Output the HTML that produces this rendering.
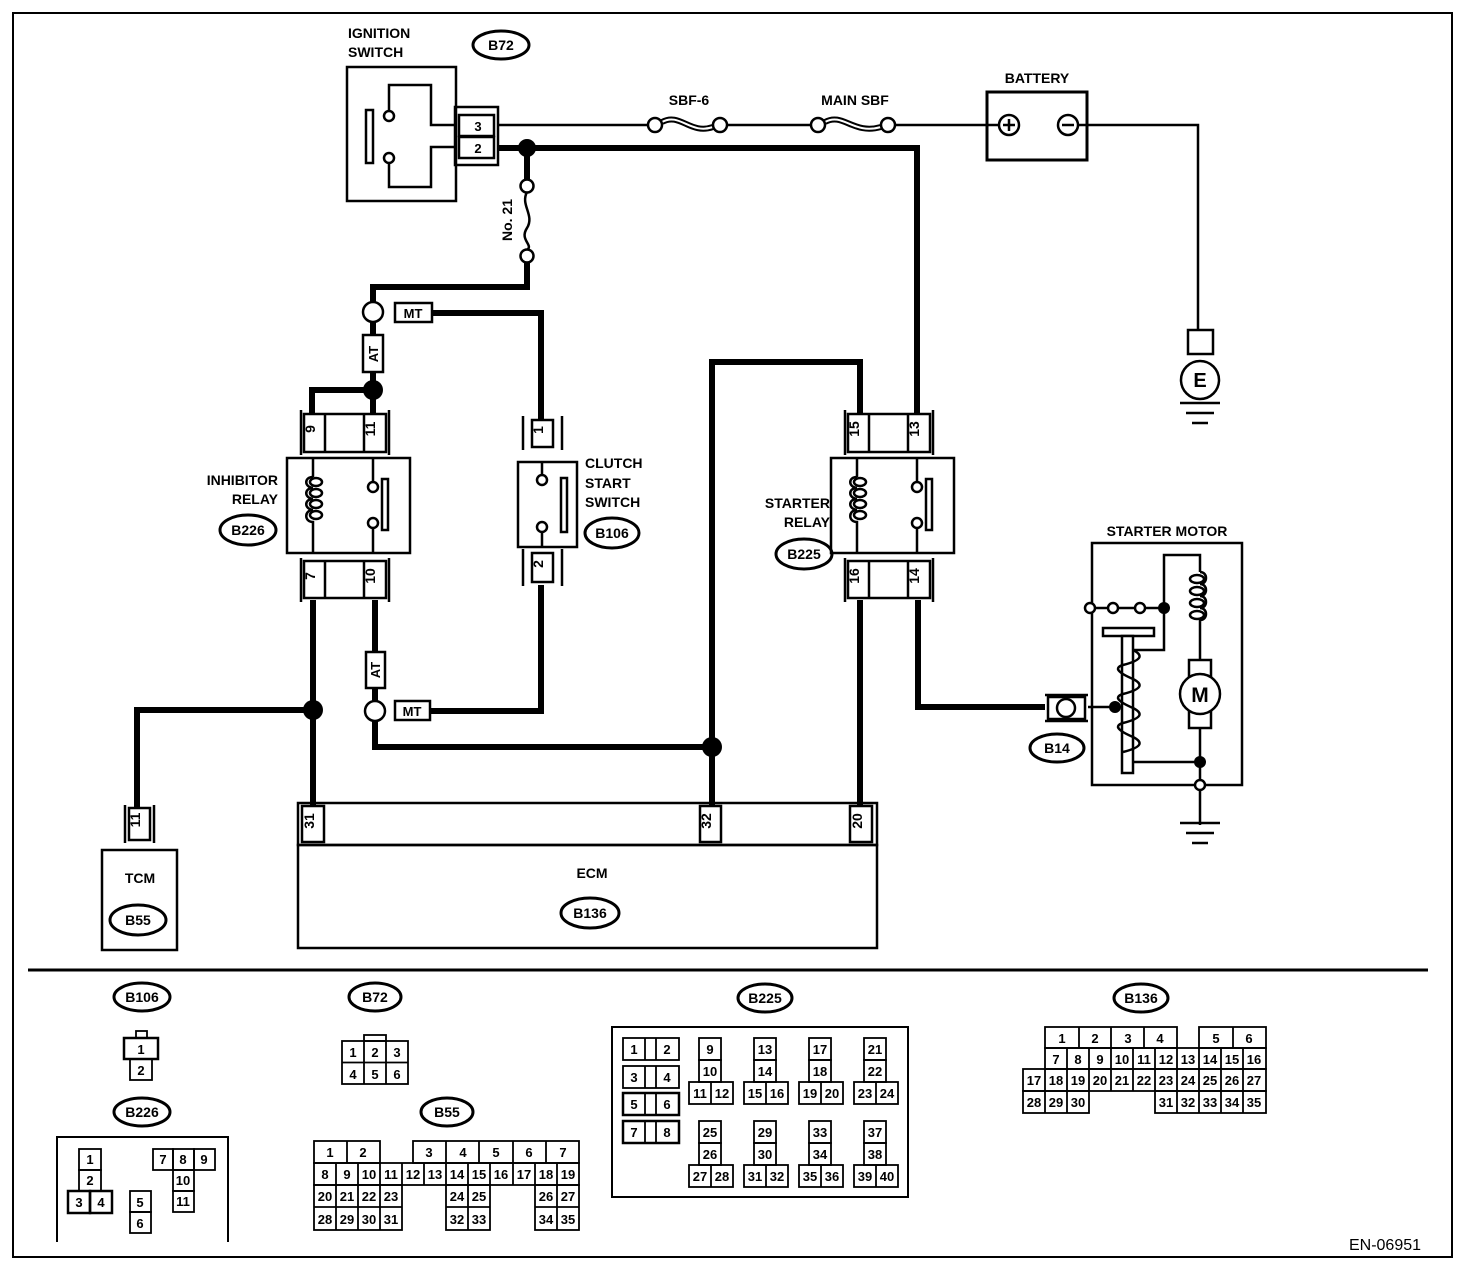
<!DOCTYPE html>
<html><head><meta charset="utf-8"><style>
html,body{margin:0;padding:0;background:#fff}
svg{display:block}
text{font-family:"Liberation Sans",sans-serif;font-weight:bold;fill:#000}
</style></head><body>
<svg width="1472" height="1274" viewBox="0 0 1472 1274" xmlns="http://www.w3.org/2000/svg">
<rect x="13" y="13" width="1439" height="1244" fill="none" stroke="#000" stroke-width="2"/>
<line x1="28" y1="970" x2="1428" y2="970" stroke="#000" stroke-width="3"/>

<g fill="none" stroke="#000" stroke-width="2.5">
<!-- ignition switch -->
<rect x="347" y="67" width="109" height="134"/>
<polyline points="389,111 389,85 431,85 431,125 456,125"/>
<polyline points="456,147 431,147 431,187 389,187 389,163"/>
<circle cx="389" cy="116" r="5" fill="#fff"/>
<circle cx="389" cy="158" r="5" fill="#fff"/>
<rect x="366" y="110" width="7" height="53"/>
<rect x="455" y="107" width="43" height="58"/>
<rect x="459" y="115" width="35" height="21"/>
<rect x="459" y="137" width="35" height="21"/>
</g>
<text x="348" y="38" font-size="14">IGNITION</text>
<text x="348" y="57" font-size="14">SWITCH</text>
<text x="478" y="131" font-size="13" text-anchor="middle">3</text>
<text x="478" y="153" font-size="13" text-anchor="middle">2</text>
<ellipse cx="501" cy="45" rx="28" ry="14" fill="none" stroke="#000" stroke-width="3"/>
<text x="501" y="50" font-size="14" text-anchor="middle">B72</text>

<!-- thin wire 3 to battery -->
<g fill="none" stroke="#000" stroke-width="2.5">
<line x1="498" y1="125" x2="648" y2="125"/>
<line x1="727" y1="125" x2="811" y2="125"/>
<line x1="895" y1="125" x2="998" y2="125"/>
<polyline points="1077,125 1198,125 1198,330"/>
</g>
<!-- fuses -->
<g stroke="#000" fill="#fff" stroke-width="2.5">
<path d="M662,122 C680,112 690,135 713,127" fill="none" stroke-width="6"/>
<path d="M662,122 C680,112 690,135 713,127" fill="none" stroke="#fff" stroke-width="2"/>
<circle cx="655" cy="125" r="7"/><circle cx="720" cy="125" r="7"/>
<path d="M825,122 C843,112 853,135 881,127" fill="none" stroke-width="6"/>
<path d="M825,122 C843,112 853,135 881,127" fill="none" stroke="#fff" stroke-width="2"/>
<circle cx="818" cy="125" r="7"/><circle cx="888" cy="125" r="7"/>
</g>
<text x="689" y="105" font-size="14" text-anchor="middle">SBF-6</text>
<text x="855" y="105" font-size="14" text-anchor="middle">MAIN SBF</text>

<!-- battery -->
<rect x="987" y="92" width="100" height="68" fill="none" stroke="#000" stroke-width="3"/>
<text x="1037" y="83" font-size="14" text-anchor="middle">BATTERY</text>
<g fill="#fff" stroke="#000" stroke-width="2.5">
<circle cx="1009" cy="125" r="10"/><circle cx="1068" cy="125" r="10"/>
</g>
<path d="M1003,125h12M1009,119v12M1062,125h12" stroke="#000" stroke-width="2.5"/>
<!-- E ground -->
<rect x="1188" y="330" width="25" height="24" fill="#fff" stroke="#000" stroke-width="2.5"/>
<circle cx="1200" cy="380" r="19" fill="#fff" stroke="#000" stroke-width="2.5"/>
<text x="1200" y="387" font-size="20" text-anchor="middle">E</text>
<path d="M1180,403h40M1186,413h28M1192,423h16" stroke="#000" stroke-width="2.5"/>

<!-- thick wires -->
<g fill="none" stroke="#000" stroke-width="6">
<polyline points="498,148 917,148 917,414"/>
<line x1="527" y1="148" x2="527" y2="180"/>
<polyline points="527,262 527,287 373,287 373,302"/>
<line x1="373" y1="322" x2="373" y2="414"/>
<polyline points="373,390 312,390 312,414"/>
<polyline points="432,313 541,313 541,420"/>
<polyline points="860,414 860,362 712,362 712,805"/>
<line x1="860" y1="600" x2="860" y2="805"/>
<polyline points="918,600 918,707 1045,707"/>
<line x1="313" y1="600" x2="313" y2="805"/>
<polyline points="313,710 137,710 137,810"/>
<line x1="375" y1="600" x2="375" y2="702"/>
<polyline points="375,721 375,747 712,747"/>
<polyline points="430,711 541,711 541,585"/>
</g>
<path d="M527,192 C520,205 535,215 527,228 C519,240 534,245 527,250" fill="none" stroke="#000" stroke-width="2.5"/>
<g fill="#fff" stroke="#000" stroke-width="2.5">
<circle cx="527" cy="186" r="6.5"/><circle cx="527" cy="256" r="6.5"/>
<circle cx="373" cy="312" r="10"/><circle cx="375" cy="711" r="10"/>
<rect x="395" y="303" width="37" height="19"/>
<rect x="363" y="335" width="20" height="37"/>
<rect x="395" y="701" width="35" height="19"/>
<rect x="366" y="652" width="19" height="36"/>
</g>
<text x="413" y="318" font-size="13" text-anchor="middle">MT</text>
<text x="412" y="716" font-size="13" text-anchor="middle">MT</text>
<text x="378" y="354" font-size="13" text-anchor="middle" transform="rotate(-90 378 354)" dy="0">AT</text>
<text x="380" y="670" font-size="13" text-anchor="middle" transform="rotate(-90 380 670)">AT</text>
<text x="512" y="220" font-size="14" text-anchor="middle" transform="rotate(-90 512 220)">No. 21</text>
<g fill="#000">
<circle cx="527" cy="148" r="9"/><circle cx="373" cy="390" r="10"/>
<circle cx="313" cy="710" r="10"/><circle cx="712" cy="747" r="10"/>
</g>

<!-- relay template -->
<defs>
<g id="relay" fill="none" stroke="#000" stroke-width="2.5">
<line x1="301" y1="410" x2="301" y2="455"/><line x1="389" y1="410" x2="389" y2="455"/>
<rect x="304" y="414" width="82" height="38" fill="#fff"/>
<line x1="325" y1="414" x2="325" y2="452"/><line x1="364" y1="414" x2="364" y2="452"/>
<rect x="287" y="458" width="123" height="95" fill="#fff"/>
<path d="M313,458 V477 M313,533 V553"/>
<path d="M313,477 c-9,0 -9,10 0,11 c-9,0 -9,10 0,11 c-9,0 -9,10 0,11 c-9,0 -9,12 0,12 c0,0 0,11 0,11"/>
<ellipse cx="316" cy="482" rx="6" ry="4"/><ellipse cx="316" cy="493" rx="6" ry="4"/>
<ellipse cx="316" cy="504" rx="6" ry="4"/><ellipse cx="316" cy="515" rx="6" ry="4"/>
<path d="M373,458 V482 M373,528 V553"/>
<circle cx="373" cy="487" r="5" fill="#fff"/><circle cx="373" cy="523" r="5" fill="#fff"/>
<rect x="382" y="479" width="6" height="51"/>
<line x1="301" y1="558" x2="301" y2="602"/><line x1="389" y1="558" x2="389" y2="602"/>
<rect x="304" y="561" width="82" height="37" fill="#fff"/>
<line x1="325" y1="561" x2="325" y2="598"/><line x1="364" y1="561" x2="364" y2="598"/>
</g>
</defs>
<use href="#relay"/>
<use href="#relay" transform="translate(544,0)"/>
<g font-size="14" text-anchor="middle">
<text x="319" y="433" transform="rotate(-90 315 433)">9</text>
<text x="379" y="433" transform="rotate(-90 375 433)">11</text>
<text x="319" y="580" transform="rotate(-90 315 580)">7</text>
<text x="379" y="580" transform="rotate(-90 375 580)">10</text>
<text x="863" y="433" transform="rotate(-90 859 433)">15</text>
<text x="923" y="433" transform="rotate(-90 919 433)">13</text>
<text x="863" y="580" transform="rotate(-90 859 580)">16</text>
<text x="923" y="580" transform="rotate(-90 919 580)">14</text>
</g>
<text x="278" y="485" font-size="14" text-anchor="end">INHIBITOR</text>
<text x="278" y="504" font-size="14" text-anchor="end">RELAY</text>
<ellipse cx="248" cy="530" rx="28" ry="15" fill="none" stroke="#000" stroke-width="3"/>
<text x="248" y="535" font-size="14" text-anchor="middle">B226</text>
<text x="830" y="508" font-size="14" text-anchor="end">STARTER</text>
<text x="830" y="527" font-size="14" text-anchor="end">RELAY</text>
<ellipse cx="804" cy="554" rx="28" ry="15" fill="none" stroke="#000" stroke-width="3"/>
<text x="804" y="559" font-size="14" text-anchor="middle">B225</text>

<!-- clutch switch -->
<g fill="none" stroke="#000" stroke-width="2.5">
<path d="M523,416V450M562,416V450M523,549V586M562,549V586"/>
<rect x="532" y="420" width="21" height="27" fill="#fff"/>
<rect x="518" y="462" width="59" height="85" fill="#fff"/>
<rect x="532" y="553" width="21" height="29" fill="#fff"/>
<path d="M542,462V475M542,532V547"/>
<circle cx="542" cy="480" r="5" fill="#fff"/><circle cx="542" cy="527" r="5" fill="#fff"/>
<rect x="561" y="478" width="6" height="54"/>
</g>
<text x="547" y="434" font-size="14" text-anchor="middle" transform="rotate(-90 543 434)">1</text>
<text x="547" y="568" font-size="14" text-anchor="middle" transform="rotate(-90 543 568)">2</text>
<text x="585" y="468" font-size="14">CLUTCH</text>
<text x="585" y="488" font-size="14">START</text>
<text x="585" y="507" font-size="14">SWITCH</text>
<ellipse cx="612" cy="533" rx="27" ry="15" fill="none" stroke="#000" stroke-width="3"/>
<text x="612" y="538" font-size="14" text-anchor="middle">B106</text>

<!-- ECM -->
<g fill="none" stroke="#000" stroke-width="2.5">
<rect x="298" y="803" width="579" height="42"/>
<rect x="298" y="845" width="579" height="103"/>
<rect x="302" y="806" width="22" height="36"/><rect x="700" y="806" width="21" height="36"/>
<rect x="850" y="806" width="22" height="36"/>
</g>
<text x="318" y="825" font-size="14" text-anchor="middle" transform="rotate(-90 314 825)">31</text>
<text x="715" y="825" font-size="14" text-anchor="middle" transform="rotate(-90 711 825)">32</text>
<text x="866" y="825" font-size="14" text-anchor="middle" transform="rotate(-90 862 825)">20</text>
<text x="592" y="878" font-size="14" text-anchor="middle">ECM</text>
<ellipse cx="590" cy="913" rx="29" ry="15" fill="none" stroke="#000" stroke-width="3"/>
<text x="590" y="918" font-size="14" text-anchor="middle">B136</text>

<!-- TCM -->
<g fill="none" stroke="#000" stroke-width="2.5">
<path d="M125,805V843M154,805V843"/>
<rect x="129" y="808" width="21" height="32" fill="#fff"/>
<rect x="102" y="850" width="75" height="100"/>
</g>
<text x="144" y="824" font-size="14" text-anchor="middle" transform="rotate(-90 140 824)">11</text>
<text x="140" y="883" font-size="14" text-anchor="middle">TCM</text>
<ellipse cx="138" cy="920" rx="28" ry="15" fill="none" stroke="#000" stroke-width="3"/>
<text x="138" y="925" font-size="14" text-anchor="middle">B55</text>

<!-- starter motor -->
<text x="1167" y="536" font-size="14" text-anchor="middle">STARTER MOTOR</text>
<g fill="none" stroke="#000" stroke-width="2.5">
<rect x="1092" y="543" width="150" height="242"/>
<path d="M1045,695h43M1045,721h43"/>
<rect x="1048" y="697" width="37" height="22" fill="#fff"/>
<circle cx="1066" cy="708" r="9"/>
<line x1="1088" y1="707" x2="1115" y2="707"/>
<path d="M1090,608h46M1144,608h20V555h36V572"/>
<path d="M1164,608V650H1133"/>
<path d="M1200,572c8,0 8,12 0,12c8,0 8,12 0,12c8,0 8,12 0,12c8,0 8,12 0,12V660"/>
<ellipse cx="1197" cy="579" rx="7" ry="4"/><ellipse cx="1197" cy="591" rx="7" ry="4"/>
<ellipse cx="1197" cy="603" rx="7" ry="4"/><ellipse cx="1197" cy="615" rx="7" ry="4"/>
<rect x="1189" y="660" width="22" height="68"/>
<circle cx="1200" cy="694" r="20" fill="#fff"/>
<line x1="1200" y1="728" x2="1200" y2="825"/>
<line x1="1133" y1="762" x2="1200" y2="762"/>
<rect x="1103" y="628" width="51" height="8"/>
<rect x="1122" y="636" width="11" height="137" fill="#fff"/>
<path d="M1133,650c10,5 10,10 -10,15c-10,3 -4,8 10,14M1133,679c10,5 10,10 -10,15c-10,3 -4,8 10,14M1133,708c10,5 10,10 -10,15c-10,3 -4,8 10,14M1133,737c10,5 10,10 -10,15"/>
<path d="M1180,823h40M1186,833h28M1192,843h16"/>
</g>
<g fill="#fff" stroke="#000" stroke-width="2.5">
<circle cx="1090" cy="608" r="5"/><circle cx="1113" cy="608" r="5"/><circle cx="1140" cy="608" r="5"/>
<circle cx="1200" cy="785" r="5"/>
</g>
<g fill="#000"><circle cx="1164" cy="608" r="6"/><circle cx="1115" cy="707" r="6"/><circle cx="1200" cy="762" r="6"/></g>
<text x="1200" y="702" font-size="21" text-anchor="middle">M</text>
<ellipse cx="1057" cy="748" rx="27" ry="14" fill="none" stroke="#000" stroke-width="3"/>
<text x="1057" y="753" font-size="14" text-anchor="middle">B14</text>

<!-- BOTTOM CONNECTOR TABLES -->
<g fill="none" stroke="#000" stroke-width="3">
<ellipse cx="142" cy="997" rx="28" ry="14"/><ellipse cx="375" cy="997" rx="26" ry="14"/>
<ellipse cx="142" cy="1112" rx="28" ry="14"/><ellipse cx="447" cy="1112" rx="26" ry="14"/>
<ellipse cx="765" cy="998" rx="27" ry="14"/><ellipse cx="1141" cy="998" rx="27" ry="14"/>
</g>
<g font-size="14" text-anchor="middle">
<text x="142" y="1002">B106</text><text x="375" y="1002">B72</text>
<text x="142" y="1117">B226</text><text x="447" y="1117">B55</text>
<text x="765" y="1003">B225</text><text x="1141" y="1003">B136</text>
</g>
<g fill="none" stroke="#000" stroke-width="1.8">
<!-- B106 -->
<rect x="136" y="1031" width="11" height="7"/>
<rect x="124" y="1038" width="34" height="21" stroke-width="2.5"/>
<rect x="130" y="1059" width="22" height="21"/>
<!-- B72 -->
<rect x="364" y="1035" width="22" height="6"/>
<rect x="342" y="1041" width="66" height="43"/>
<path d="M342,1062.5h66M364,1041v43M386,1041v43"/>
<!-- B226 -->
<path d="M57,1242V1137H228V1242" stroke-width="2"/>
<rect x="79" y="1149" width="22" height="21"/><rect x="79" y="1170" width="22" height="21"/>
<rect x="68" y="1191" width="22" height="22" stroke-width="2.5"/><rect x="90" y="1191" width="22" height="22" stroke-width="2.5"/>
<rect x="130" y="1191" width="21" height="21"/><rect x="130" y="1212" width="21" height="21"/>
<rect x="153" y="1149" width="20" height="21"/><rect x="173" y="1149" width="21" height="21"/><rect x="194" y="1149" width="21" height="21"/>
<rect x="173" y="1170" width="21" height="21"/><rect x="173" y="1191" width="21" height="21"/>
</g>
<g font-size="13" text-anchor="middle">
<text x="141" y="1054">1</text><text x="141" y="1075">2</text>
<text x="353" y="1057">1</text><text x="375" y="1057">2</text><text x="397" y="1057">3</text>
<text x="353" y="1079">4</text><text x="375" y="1079">5</text><text x="397" y="1079">6</text>
<text x="90" y="1164">1</text><text x="90" y="1185">2</text><text x="79" y="1207">3</text><text x="101" y="1207">4</text>
<text x="140" y="1207">5</text><text x="140" y="1228">6</text>
<text x="163" y="1164">7</text><text x="183" y="1164">8</text><text x="204" y="1164">9</text>
<text x="183" y="1185">10</text><text x="183" y="1206">11</text>
</g>

<!-- B55 -->
<g fill="none" stroke="#000" stroke-width="1.8">
<rect x="314" y="1141" width="66" height="22"/><line x1="347" y1="1141" x2="347" y2="1163"/>
<rect x="413" y="1141" width="166" height="22"/>
<path d="M446,1141v22M479,1141v22M513,1141v22M546,1141v22"/>
<rect x="314" y="1163" width="265" height="22"/>
<path d="M336,1163v22M358,1163v22M380,1163v22M402,1163v22M424,1163v22M446,1163v22M468,1163v22M490,1163v22M513,1163v22M535,1163v22M557,1163v22"/>
<rect x="314" y="1185" width="88" height="45"/><path d="M314,1207h88M336,1185v45M358,1185v45M380,1185v45"/>
<rect x="446" y="1185" width="44" height="45"/><path d="M446,1207h44M468,1185v45"/>
<rect x="535" y="1185" width="44" height="45"/><path d="M535,1207h44M557,1185v45"/>
</g>
<g font-size="13" text-anchor="middle">
<text x="330" y="1157">1</text><text x="363" y="1157">2</text><text x="429" y="1157">3</text><text x="463" y="1157">4</text><text x="496" y="1157">5</text><text x="529" y="1157">6</text><text x="563" y="1157">7</text>
<text x="325" y="1179">8</text><text x="347" y="1179">9</text><text x="369" y="1179">10</text><text x="391" y="1179">11</text><text x="413" y="1179">12</text><text x="435" y="1179">13</text><text x="457" y="1179">14</text><text x="479" y="1179">15</text><text x="501" y="1179">16</text><text x="524" y="1179">17</text><text x="546" y="1179">18</text><text x="568" y="1179">19</text>
<text x="325" y="1201">20</text><text x="347" y="1201">21</text><text x="369" y="1201">22</text><text x="391" y="1201">23</text><text x="457" y="1201">24</text><text x="479" y="1201">25</text><text x="546" y="1201">26</text><text x="568" y="1201">27</text>
<text x="325" y="1224">28</text><text x="347" y="1224">29</text><text x="369" y="1224">30</text><text x="391" y="1224">31</text><text x="457" y="1224">32</text><text x="479" y="1224">33</text><text x="546" y="1224">34</text><text x="568" y="1224">35</text>
</g>

<!-- B225 -->
<g fill="none" stroke="#000" stroke-width="1.8">
<rect x="612" y="1027" width="296" height="170" stroke-width="2"/>
<rect x="623" y="1038" width="56" height="22"/><path d="M645,1038v22M656,1038v22"/>
<rect x="623" y="1066" width="56" height="22"/><path d="M645,1066v22M656,1066v22"/>
<rect x="623" y="1093" width="56" height="22" stroke-width="2.5"/><path d="M645,1093v22M656,1093v22"/>
<rect x="623" y="1121" width="56" height="22" stroke-width="2.5"/><path d="M645,1121v22M656,1121v22"/>
</g>
<defs>
<g id="grp" fill="none" stroke="#000" stroke-width="1.8">
<rect x="699" y="1038" width="22" height="22"/><rect x="699" y="1060" width="22" height="22"/>
<rect x="689" y="1082" width="44" height="22"/><line x1="711" y1="1082" x2="711" y2="1104"/>
</g>
</defs>
<use href="#grp"/><use href="#grp" transform="translate(55,0)"/><use href="#grp" transform="translate(110,0)"/><use href="#grp" transform="translate(165,0)"/>
<use href="#grp" transform="translate(0,83)"/><use href="#grp" transform="translate(55,83)"/><use href="#grp" transform="translate(110,83)"/><use href="#grp" transform="translate(165,83)"/>
<g font-size="13" text-anchor="middle">
<text x="634" y="1054">1</text><text x="667" y="1054">2</text><text x="634" y="1082">3</text><text x="667" y="1082">4</text>
<text x="634" y="1109">5</text><text x="667" y="1109">6</text><text x="634" y="1137">7</text><text x="667" y="1137">8</text>
<text x="710" y="1054">9</text><text x="710" y="1076">10</text><text x="700" y="1098">11</text><text x="722" y="1098">12</text>
<text x="765" y="1054">13</text><text x="765" y="1076">14</text><text x="755" y="1098">15</text><text x="777" y="1098">16</text>
<text x="820" y="1054">17</text><text x="820" y="1076">18</text><text x="810" y="1098">19</text><text x="832" y="1098">20</text>
<text x="875" y="1054">21</text><text x="875" y="1076">22</text><text x="865" y="1098">23</text><text x="887" y="1098">24</text>
<text x="710" y="1137">25</text><text x="710" y="1159">26</text><text x="700" y="1181">27</text><text x="722" y="1181">28</text>
<text x="765" y="1137">29</text><text x="765" y="1159">30</text><text x="755" y="1181">31</text><text x="777" y="1181">32</text>
<text x="820" y="1137">33</text><text x="820" y="1159">34</text><text x="810" y="1181">35</text><text x="832" y="1181">36</text>
<text x="875" y="1137">37</text><text x="875" y="1159">38</text><text x="865" y="1181">39</text><text x="887" y="1181">40</text>
</g>

<!-- B136 -->
<g fill="none" stroke="#000" stroke-width="1.8">
<rect x="1045" y="1027" width="132" height="21"/><path d="M1079,1027v21M1111,1027v21M1144,1027v21"/>
<rect x="1199" y="1027" width="67" height="21"/><line x1="1233" y1="1027" x2="1233" y2="1048"/>
<rect x="1045" y="1048" width="221" height="21"/>
<rect x="1023" y="1069" width="243" height="22"/>
<path d="M1067,1048v43M1089,1048v43M1111,1048v43M1133,1048v43M1155,1048v43M1177,1048v43M1199,1048v43M1221,1048v43M1243,1048v43M1045,1069v22"/>
<rect x="1023" y="1091" width="66" height="22"/><path d="M1045,1091v22M1067,1091v22"/>
<rect x="1155" y="1091" width="111" height="22"/><path d="M1177,1091v22M1199,1091v22M1221,1091v22M1243,1091v22"/>
</g>
<g font-size="13" text-anchor="middle">
<text x="1062" y="1043">1</text><text x="1095" y="1043">2</text><text x="1128" y="1043">3</text><text x="1160" y="1043">4</text><text x="1216" y="1043">5</text><text x="1249" y="1043">6</text>
<text x="1056" y="1064">7</text><text x="1078" y="1064">8</text><text x="1100" y="1064">9</text><text x="1122" y="1064">10</text><text x="1144" y="1064">11</text><text x="1166" y="1064">12</text><text x="1188" y="1064">13</text><text x="1210" y="1064">14</text><text x="1232" y="1064">15</text><text x="1254" y="1064">16</text>
<text x="1034" y="1085">17</text><text x="1056" y="1085">18</text><text x="1078" y="1085">19</text><text x="1100" y="1085">20</text><text x="1122" y="1085">21</text><text x="1144" y="1085">22</text><text x="1166" y="1085">23</text><text x="1188" y="1085">24</text><text x="1210" y="1085">25</text><text x="1232" y="1085">26</text><text x="1254" y="1085">27</text>
<text x="1034" y="1107">28</text><text x="1056" y="1107">29</text><text x="1078" y="1107">30</text><text x="1166" y="1107">31</text><text x="1188" y="1107">32</text><text x="1210" y="1107">33</text><text x="1232" y="1107">34</text><text x="1254" y="1107">35</text>
</g>

<text x="1385" y="1250" font-size="16" font-weight="normal" text-anchor="middle" style="font-weight:normal">EN-06951</text>
</svg>
</body></html>
